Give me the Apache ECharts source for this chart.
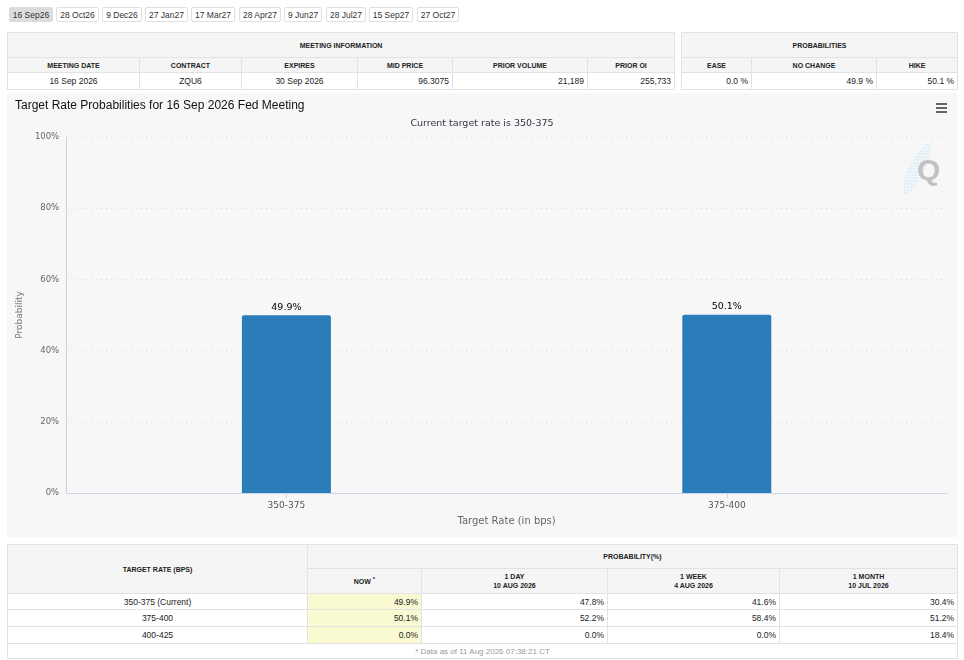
<!DOCTYPE html>
<html>
<head>
<meta charset="utf-8">
<script src="https://cdn.jsdelivr.net/npm/echarts@6/dist/echarts.min.js"></script>
<style>
  html,body{margin:0;padding:0;background:#fff;width:964px;height:660px;overflow:hidden;font-family:"Liberation Sans",Arial,sans-serif;}
  #tabs{position:absolute;left:9px;top:7px;height:16px;}
  .tab{position:absolute;top:0;height:15px;line-height:15px;border:1px solid #e0e0e0;border-radius:2px;font-size:8.5px;color:#333;text-align:center;background:#fff;box-sizing:border-box;}
  .tab.active{background:#dcdcdc;border-color:#dcdcdc;}
  table{position:absolute;border-collapse:collapse;table-layout:fixed;font-family:"Liberation Sans",Arial,sans-serif;}
  td,th{border:1px solid #e2e2e2;padding:0 3px;overflow:hidden;white-space:nowrap;box-sizing:border-box;}
  th{background:#f5f5f5;font-size:7px;font-weight:bold;color:#222;text-align:center;}
  td{font-size:8.5px;color:#222;background:#fff;}
  .c{text-align:center;} .r{text-align:right;}
  .now{background:#f9f9d2;}
  #chart{position:absolute;left:7px;top:93px;width:950px;height:444px;}
  .foot{color:#999;font-size:8px;text-align:center;}
</style>
</head>
<body>
<div id="tabs"></div>
<table id="meet" style="left:7px;top:32px;width:667px;"></table>
<table id="probs" style="left:681px;top:32px;width:276px;"></table>
<div id="chart"></div>
<table id="rates" style="left:7px;top:544px;width:950px;"></table>
<script>
// ---------- data ----------
var tabLabels = ['16 Sep26','28 Oct26','9 Dec26','27 Jan27','17 Mar27','28 Apr27','9 Jun27','28 Jul27','15 Sep27','27 Oct27'];
var meetingHeaders = ['MEETING DATE','CONTRACT','EXPIRES','MID PRICE','PRIOR VOLUME','PRIOR OI'];
var meetingValues = ['16 Sep 2026','ZQU6','30 Sep 2026','96.3075','21,189','255,733'];
var probHeaders = ['EASE','NO CHANGE','HIKE'];
var probValues = ['0.0 %','49.9 %','50.1 %'];
var categories = ['350-375','375-400'];
var barValues = [49.9, 50.1];
var yTicks = [0, 20, 40, 60, 80, 100];
var rateRows = ['350-375 (Current)','375-400','400-425'];
var nowVals = [49.9, 50.1, 0.0];
var dayVals = [47.8, 52.2, 0.0];
var weekVals = [41.6, 58.4, 0.0];
var monthVals = [30.4, 51.2, 18.4];
var periodHeads = [['1 DAY','10 AUG 2026'],['1 WEEK','4 AUG 2026'],['1 MONTH','10 JUL 2026']];
var footNote = '* Data as of 11 Aug 2026 07:38:21 CT';

// ---------- tabs ----------
var tabX = [0,47,93,136,182,230,275,317,360,408];
var tabW = [44,43,40,43,44,42,38,40,44,42];
var tabsEl = document.getElementById('tabs');
tabLabels.forEach(function(t,i){
  var d=document.createElement('div');
  d.className='tab'+(i===0?' active':'');
  d.style.left=tabX[i]+'px'; d.style.width=tabW[i]+'px';
  d.textContent=t; tabsEl.appendChild(d);
});

// ---------- top tables ----------
var mw=[132,102,116,95,135,87];
var align=['c','c','c','r','r','r'];
var h='<colgroup>'+mw.map(function(w){return '<col style="width:'+w+'px">';}).join('')+'</colgroup>';
h+='<tr style="height:25px"><th colspan="6">MEETING INFORMATION</th></tr>';
h+='<tr style="height:15px">'+meetingHeaders.map(function(x){return '<th>'+x+'</th>';}).join('')+'</tr>';
h+='<tr style="height:17px">'+meetingValues.map(function(x,i){return '<td class="'+align[i]+'">'+x+'</td>';}).join('')+'</tr>';
document.getElementById('meet').innerHTML=h;

var pw=[70,125,81];
h='<colgroup>'+pw.map(function(w){return '<col style="width:'+w+'px">';}).join('')+'</colgroup>';
h+='<tr style="height:25px"><th colspan="3">PROBABILITIES</th></tr>';
h+='<tr style="height:15px">'+probHeaders.map(function(x){return '<th>'+x+'</th>';}).join('')+'</tr>';
h+='<tr style="height:17px">'+probValues.map(function(x){return '<td class="r">'+x+'</td>';}).join('')+'</tr>';
document.getElementById('probs').innerHTML=h;

// ---------- bottom table ----------
var bw=[300,114,186,172,178];
h='<colgroup>'+bw.map(function(w){return '<col style="width:'+w+'px">';}).join('')+'</colgroup>';
h+='<tr style="height:24px"><th rowspan="2">TARGET RATE (BPS)</th><th colspan="4">PROBABILITY(%)</th></tr>';
h+='<tr style="height:25px"><th>NOW <sup style="font-size:6px">*</sup></th>'+periodHeads.map(function(p){return '<th style="line-height:9px">'+p[0]+'<br>'+p[1]+'</th>';}).join('')+'</tr>';
rateRows.forEach(function(r,i){
  h+='<tr style="height:'+(i===0?16:17)+'px"><td class="c">'+r+'</td><td class="r now">'+nowVals[i].toFixed(1)+'%</td><td class="r">'+dayVals[i].toFixed(1)+'%</td><td class="r">'+weekVals[i].toFixed(1)+'%</td><td class="r">'+monthVals[i].toFixed(1)+'%</td></tr>';
});
h+='<tr style="height:15px"><td colspan="5" class="foot">'+footNote+'</td></tr>';
document.getElementById('rates').innerHTML=h;

// ---------- chart ----------
var chart = echarts.init(document.getElementById('chart'));
var cf = 'DejaVu Sans, Verdana, sans-serif';
var graphics = [
  {type:'rect',left:929,top:10,shape:{width:11,height:2},style:{fill:'#666'}},
  {type:'rect',left:929,top:14,shape:{width:11,height:2},style:{fill:'#666'}},
  {type:'rect',left:929,top:18,shape:{width:11,height:2},style:{fill:'#666'}}
];
// decorative logo streaks (not data)
for (var k = 0; k < 17; k++) {
  var yy = 52 + k * 3;
  var cx = 921 - k * 1.35;
  var hw = 2 + 7 * Math.sin(Math.PI * (k + 0.5) / 17);
  graphics.push({type:'line',x:0,y:0,shape:{x1:cx-hw,y1:yy,x2:cx+hw,y2:yy},style:{stroke:'#bfe6f6',lineWidth:1,lineDash:[2,1]}});
}
graphics.push({type:'text',left:910,top:64,style:{text:'Q',fontFamily:'Liberation Sans, Arial, sans-serif',fontSize:30,fontWeight:'bold',fill:'#c2c2c2'}});

chart.setOption({
  backgroundColor:'#f7f7f7',
  animation:false,
  title:[
    {text:'Target Rate Probabilities for 16 Sep 2026 Fed Meeting',left:8,top:7,padding:0,textStyle:{fontFamily:'Liberation Sans, Arial, sans-serif',fontSize:12,fontWeight:'normal',color:'#111'}},
    {text:'Current target rate is 350-375',left:'center',top:26,padding:0,textStyle:{fontFamily:cf,fontSize:9.5,fontWeight:'normal',color:'#333344'}}
  ],
  grid:{left:59,right:10,top:44,bottom:44,containLabel:false},
  xAxis:{
    type:'category',data:categories,
    name:'Target Rate (in bps)',nameLocation:'middle',nameGap:23,
    nameTextStyle:{fontFamily:cf,fontSize:10,color:'#666'},
    axisLine:{lineStyle:{color:'#ccd6eb',width:1}},
    axisTick:{show:true,alignWithLabel:true,length:5,lineStyle:{color:'#ccd6eb'}},
    axisLabel:{fontFamily:cf,fontSize:9,color:'#555',margin:8}
  },
  yAxis:{
    type:'value',min:yTicks[0],max:yTicks[yTicks.length-1],interval:yTicks[1]-yTicks[0],
    name:'Probability',nameLocation:'middle',nameGap:37,
    nameTextStyle:{fontFamily:cf,fontSize:9,color:'#777'},
    axisLine:{show:true,lineStyle:{color:'#d0d0d0',width:1}},
    axisTick:{show:false},
    axisLabel:{formatter:'{value}%',fontFamily:cf,fontSize:8.5,color:'#666',margin:7},
    splitLine:{show:true,lineStyle:{color:'#d8d8d8',type:[1,4],width:1}}
  },
  series:[{
    type:'bar',data:barValues,barWidth:89,
    itemStyle:{color:'#2a7db8',borderRadius:[2,2,0,0]},
    label:{show:true,position:'top',distance:3,formatter:function(p){return p.value.toFixed(1)+'%';},fontFamily:cf,fontSize:9.5,color:'#000'}
  }],
  graphic:graphics
});
</script>
</body>
</html>
